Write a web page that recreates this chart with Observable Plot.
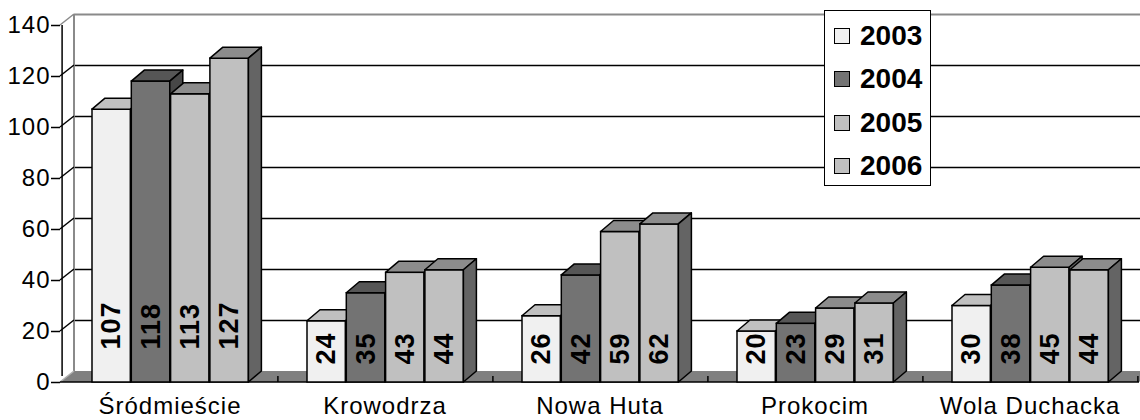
<!DOCTYPE html>
<html>
<head>
<meta charset="utf-8">
<script src="https://cdn.jsdelivr.net/npm/d3@7"></script>
<script src="https://cdn.jsdelivr.net/npm/@observablehq/plot@0.6"></script>
<style>
  body { margin: 0; background: #fff; }
  #chart { position: relative; width: 1140px; height: 420px; font-family: "Liberation Sans", Arial, sans-serif; }
  #legend { position: absolute; left: 824px; top: 10px; width: 107px; height: 176px; box-sizing: border-box;
            border: 1.5px solid #000; background: #fff; padding-top: 3px; }
  #legend .row { display: flex; align-items: center; height: 43.5px; }
  #legend .sw { width: 16px; height: 16px; box-sizing: border-box; border: 1px solid #000; margin-left: 9px; }
  #legend .lb { margin-left: 10px; font-weight: bold; font-size: 28px; line-height: 28px; color: #000; }
</style>
</head>
<body>
<div id="chart"><div id="legend"></div></div>
<script>
// ---- data ----
const districts = ["Śródmieście", "Krowodrza", "Nowa Huta", "Prokocim", "Wola Duchacka"];
const years = ["2003", "2004", "2005", "2006"];
const values2003 = [107, 24, 26, 20, 30];
const values2004 = [118, 35, 42, 23, 38];
const values2005 = [113, 43, 59, 29, 45];
const values2006 = [127, 44, 62, 31, 44];
const yTicks = [0, 20, 40, 60, 80, 100, 120, 140];

// ---- styles ----
const frontColors = ["#f0f0f0", "#737373", "#c0c0c0", "#c0c0c0"];
const topColors   = ["#c0c0c0", "#565656", "#8c8c8c", "#8c8c8c"];
const sideColors  = ["#9a9a9a", "#474747", "#646464", "#646464"];

const series = [values2003, values2004, values2005, values2006];
const data = [];
series.forEach((vals, i) => vals.forEach((v, j) => data.push({year: years[i], yi: i, district: districts[j], value: v})));

const W = 1140, H = 420, mL = 60, mR = 1, mT = 25, mB = 38;
const bw = (W - mL - mR) / districts.length;   // band width
const barW = 39.3, firstOff = 30;              // bar layout inside a band
const BX = 13, BY = 11;                        // bar depth offset
const WX = 14, WY = 11;                        // wall depth offset
const ns = "http://www.w3.org/2000/svg";

function bar3d(i) {
  const insetLeft = firstOff + barW * i;
  const insetRight = bw - insetLeft - barW;
  return Plot.barY(data.filter(d => d.yi === i), {
    x: "district", y: "value", fill: frontColors[i], stroke: "#000", strokeWidth: 1.5,
    insetLeft, insetRight,
    render(index, scales, values, dims, ctx, next) {
      const g = next(index, scales, values, dims, ctx);
      for (const r of Array.from(g.querySelectorAll("rect"))) {
        const x = +r.getAttribute("x"), y = +r.getAttribute("y");
        const w = +r.getAttribute("width"), h = +r.getAttribute("height");
        const top = document.createElementNS(ns, "polygon");
        top.setAttribute("points", [[x, y], [x + BX, y - BY], [x + w + BX, y - BY], [x + w, y]].join(" "));
        top.setAttribute("fill", topColors[i]);
        top.setAttribute("stroke-linejoin", "round");
        const side = document.createElementNS(ns, "polygon");
        side.setAttribute("points", [[x + w, y], [x + w + BX, y - BY], [x + w + BX, y + h - BY], [x + w, y + h]].join(" "));
        side.setAttribute("fill", sideColors[i]);
        side.setAttribute("stroke-linejoin", "round");
        r.parentNode.insertBefore(top, r.nextSibling);
        r.parentNode.insertBefore(side, top.nextSibling);
      }
      return g;
    }
  });
}

function labels(i, big) {
  return Plot.text(data.filter(d => d.yi === i && (d.value >= 100) === big), {
    x: "district", y: () => 0, text: d => String(d.value),
    rotate: -90, textAnchor: "start", lineAnchor: "middle",
    dx: firstOff + barW * i + barW / 2 - bw / 2, dy: big ? -33 : -18,
    fontSize: 27, fontWeight: "bold", fill: "#000"
  });
}

const scaffold = Plot.ruleY(yTicks, {
  y: d => d,
  render(index, scales, values, dims) {
    const g = d3.create("svg:g");
    const y0 = scales.y(0), yTop = scales.y(140);
    const x0 = dims.marginLeft, x1 = dims.width - dims.marginRight;
    g.append("polygon")
      .attr("points", [[x0, y0], [x1, y0], [x1 + WX, y0 - WY], [x0 + WX, y0 - WY]].join(" "))
      .attr("fill", "#808080");
    g.append("line").attr("x1", x0 + WX).attr("x2", x0 + WX).attr("y1", yTop - WY).attr("y2", y0 - WY)
      .attr("stroke", "#8a8a8a").attr("stroke-width", 2);
    for (const t of yTicks) {
      const yy = scales.y(t);
      g.append("line").attr("x1", x0).attr("y1", yy).attr("x2", x0 + WX).attr("y2", yy - WY)
        .attr("stroke", t === 0 ? "#b0b0b0" : t === 140 ? "#8a8a8a" : "#000").attr("stroke-width", 1.5);
    }
    g.append("line").attr("x1", x0).attr("x2", x1).attr("y1", y0).attr("y2", y0)
      .attr("stroke", "#000").attr("stroke-width", 1.5);
    return g.node();
  }
});

const chart = Plot.plot({
  width: W, height: H,
  marginLeft: mL, marginRight: mR, marginTop: mT, marginBottom: mB,
  style: "font-family: 'Liberation Sans', Arial, sans-serif; font-size: 24px; letter-spacing: 1px; color: #000; background: #fff; overflow: visible;",
  x: {domain: districts, padding: 0, label: null},
  y: {domain: [0, 140], label: null},
  marks: [
    Plot.ruleY(yTicks.filter(t => t > 0 && t < 140), {y: d => d, dx: WX, dy: -WY, stroke: "#000", strokeWidth: 1.5}),
    Plot.ruleY([140], {y: d => d, dx: WX, dy: -WY, stroke: "#8a8a8a", strokeWidth: 2}),
    scaffold,
    Plot.axisY({ticks: yTicks, tickSize: 9, tickPadding: 1, tickFormat: d => String(d), label: null, strokeWidth: 1.5}),
    Plot.axisX({tickSize: 0, tickPadding: 14, label: null}),
    Plot.ruleX([districts[0]], {x: d => d, dx: -bw / 2, y1: () => 0, y2: () => 140, insetTop: -6, stroke: "#000", strokeWidth: 1.5}),
    Plot.ruleX(districts, {x: d => d, dx: bw / 2, y1: () => 0, y2: () => 0, insetTop: -6, stroke: "#000", strokeWidth: 1.5}),
    ...years.map((y, i) => bar3d(i)),
    ...years.flatMap((y, i) => [labels(i, true), labels(i, false)])
  ]
});
document.getElementById("chart").prepend(chart);

const legend = document.getElementById("legend");
years.forEach((yr, i) => {
  const row = document.createElement("div");
  row.className = "row";
  row.innerHTML = `<div class="sw" style="background:${frontColors[i]}"></div><div class="lb">${yr}</div>`;
  legend.appendChild(row);
});
</script>
</body>
</html>
